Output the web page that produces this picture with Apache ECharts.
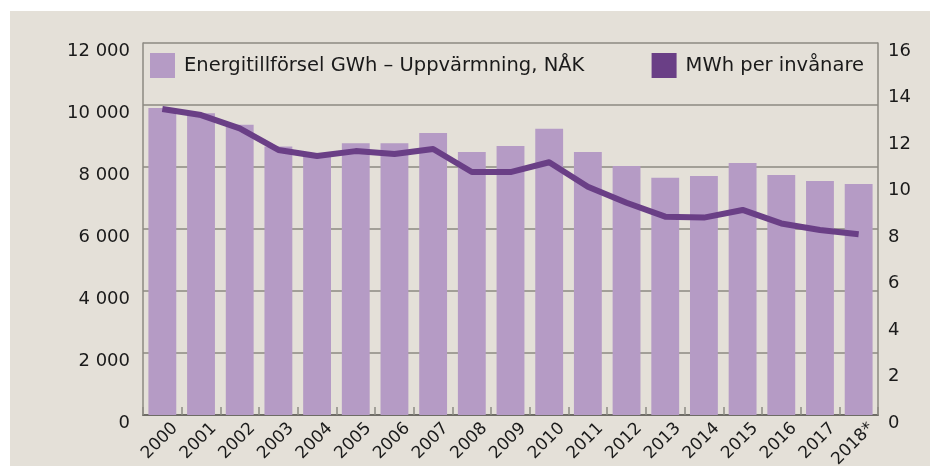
<!DOCTYPE html>
<html>
<head>
<meta charset="utf-8">
<script src="https://cdn.jsdelivr.net/npm/echarts@6/dist/echarts.min.js"></script>
<style>
html,body{margin:0;padding:0;background:#ffffff;}
#wrap{position:absolute;left:10px;top:11px;width:920px;height:455px;background:#e4e0d8;}
#chart{position:absolute;left:0;top:0;width:930px;height:466px;}
</style>
</head>
<body>
<div id="wrap"></div>
<div id="chart"></div>
<script>
const categories = ['2000','2001','2002','2003','2004','2005','2006','2007','2008','2009','2010','2011','2012','2013','2014','2015','2016','2017','2018*'];
const energyGWh = [9900, 9730, 9360, 8660, 8400, 8770, 8770, 9100, 8480, 8680, 9230, 8480, 8030, 7650, 7710, 8130, 7740, 7550, 7450];
const mwhPerCapita = [13.16, 12.9, 12.33, 11.4, 11.14, 11.35, 11.23, 11.44, 10.45, 10.45, 10.87, 9.82, 9.13, 8.53, 8.49, 8.82, 8.24, 7.96, 7.77];
const seriesNames = ['Energitillförsel GWh – Uppvärmning, NÅK', 'MWh per invånare'];
const leftTicks = [0, 12000, 2000];
const rightTicks = [0, 16, 2];

const FONT = '"DejaVu Sans", sans-serif';
const GRID_COLOR = '#8c8a82';
const chart = echarts.init(document.getElementById('chart'), null, {renderer:'canvas'});
const fmtThousands = v => String(v).replace(/\B(?=(\d{3})+(?!\d))/g, ' ');

chart.setOption({
  backgroundColor: 'transparent',
  animation: false,
  textStyle: {fontFamily: FONT, color: '#1a1a1a'},
  grid: {left: 143, right: 52, top: 43, bottom: 51, containLabel: false, outerBoundsMode: 'none'},
  legend: [
    {data: [seriesNames[0]], left: 150, top: 53, padding: 0, itemWidth: 25, itemHeight: 25, itemGap: 10,
     textStyle: {fontSize: 19.5, fontFamily: FONT, color: '#1a1a1a', padding: [0, 0, 0, 4]}, icon: 'rect', selectedMode: false},
    {data: [seriesNames[1]], right: 66, top: 53, padding: 0, itemWidth: 25, itemHeight: 25,
     textStyle: {fontSize: 19.5, fontFamily: FONT, color: '#1a1a1a', padding: [0, 0, 0, 4]}, icon: 'rect', selectedMode: false,
     itemStyle: {color: '#6a3f86'}}
  ],
  xAxis: {
    type: 'category', data: categories,
    axisLine: {show: true, lineStyle: {color: '#6e6c66', width: 2}},
    axisTick: {show: true, inside: true, length: 8, alignWithLabel: false, lineStyle: {color: GRID_COLOR, width: 1.5}},
    axisLabel: {rotate: 45, fontSize: 17, color: '#1a1a1a', margin: -2, fontFamily: FONT, interval: 0,
                verticalAlign: 'top', lineHeight: 36}
  },
  yAxis: [
    {type: 'value', min: leftTicks[0], max: leftTicks[1], interval: leftTicks[2], position: 'left',
     axisLine: {show: true, lineStyle: {color: GRID_COLOR, width: 1.5}},
     axisTick: {show: false},
     splitLine: {show: true, lineStyle: {color: GRID_COLOR, width: 1.5}},
     axisLabel: {fontSize: 18, color: '#1a1a1a', margin: 13, verticalAlign: 'top', lineHeight: 16,
                 formatter: fmtThousands, fontFamily: FONT}},
    {type: 'value', min: rightTicks[0], max: rightTicks[1], interval: rightTicks[2], position: 'right',
     axisLine: {show: true, lineStyle: {color: GRID_COLOR, width: 1.5}},
     axisTick: {show: false},
     splitLine: {show: false},
     axisLabel: {fontSize: 18, color: '#1a1a1a', margin: 10, verticalAlign: 'top', lineHeight: 16, fontFamily: FONT}}
  ],
  series: [
    {name: seriesNames[0], type: 'bar', data: energyGWh, yAxisIndex: 0,
     barCategoryGap: '28%', itemStyle: {color: '#b59bc5'}},
    {name: seriesNames[1], type: 'line', data: mwhPerCapita, yAxisIndex: 1,
     symbol: 'none', lineStyle: {color: '#6a3f86', width: 6, cap: 'butt', join: 'round'},
     itemStyle: {color: '#6a3f86'}}
  ]
});
</script>
</body>
</html>
